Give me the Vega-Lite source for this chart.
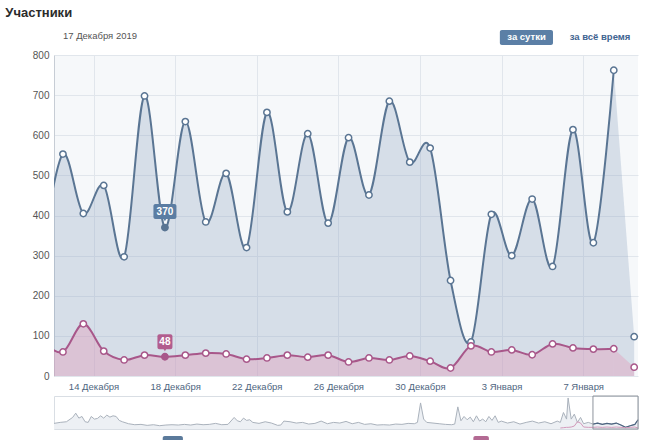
{
  "$schema": "https://vega.github.io/schema/vega-lite/v6.json",
  "padding": {"left": 5, "top": 7, "right": 0, "bottom": 0},
  "background": "#ffffff",
  "title": {"text": "Участники", "anchor": "start", "frame": "bounds", "font": "Liberation Sans", "fontSize": 13, "fontWeight": "bold", "color": "#2b2b2b", "dx": -27, "offset": 10},
  "config": {
    "font": "Liberation Sans",
    "concat": {"spacing": 4},
    "axisY": {"values": [0, 100, 200, 300, 400, 500, 600, 700, 800], "grid": true, "gridColor": "#e1e6ec", "domain": true, "domainColor": "#c7cdd5", "ticks": false, "labelPadding": 5, "labelFontSize": 10, "labelColor": "#555555", "labelFont": "Liberation Sans"}
  },
  "datasets": {
    "main": [
      {"date": "2019-12-11T12:00:00", "joined": 320, "left": 85},
      {"date": "2019-12-12T12:00:00", "joined": 553, "left": 60},
      {"date": "2019-12-13T12:00:00", "joined": 405, "left": 130},
      {"date": "2019-12-14T12:00:00", "joined": 475, "left": 62},
      {"date": "2019-12-15T12:00:00", "joined": 297, "left": 40},
      {"date": "2019-12-16T12:00:00", "joined": 698, "left": 52},
      {"date": "2019-12-17T12:00:00", "joined": 370, "left": 48},
      {"date": "2019-12-18T12:00:00", "joined": 634, "left": 52},
      {"date": "2019-12-19T12:00:00", "joined": 384, "left": 57},
      {"date": "2019-12-20T12:00:00", "joined": 505, "left": 55},
      {"date": "2019-12-21T12:00:00", "joined": 320, "left": 42},
      {"date": "2019-12-22T12:00:00", "joined": 657, "left": 45},
      {"date": "2019-12-23T12:00:00", "joined": 409, "left": 52},
      {"date": "2019-12-24T12:00:00", "joined": 604, "left": 47},
      {"date": "2019-12-25T12:00:00", "joined": 381, "left": 52},
      {"date": "2019-12-26T12:00:00", "joined": 594, "left": 35},
      {"date": "2019-12-27T12:00:00", "joined": 451, "left": 45},
      {"date": "2019-12-28T12:00:00", "joined": 685, "left": 40},
      {"date": "2019-12-29T12:00:00", "joined": 533, "left": 50},
      {"date": "2019-12-30T12:00:00", "joined": 568, "left": 37},
      {"date": "2019-12-31T12:00:00", "joined": 238, "left": 20},
      {"date": "2020-01-01T12:00:00", "joined": 85, "left": 75},
      {"date": "2020-01-02T12:00:00", "joined": 403, "left": 60},
      {"date": "2020-01-03T12:00:00", "joined": 300, "left": 65},
      {"date": "2020-01-04T12:00:00", "joined": 441, "left": 53},
      {"date": "2020-01-05T12:00:00", "joined": 273, "left": 80},
      {"date": "2020-01-06T12:00:00", "joined": 614, "left": 70},
      {"date": "2020-01-07T12:00:00", "joined": 332, "left": 67},
      {"date": "2020-01-08T12:00:00", "joined": 762, "left": 68},
      {"date": "2020-01-09T12:00:00", "joined": 98, "left": 22}
    ],
    "nav": [
      {"d": 0, "v": 17}, {"d": 4, "v": 20}, {"d": 8, "v": 22}, {"d": 12, "v": 35}, {"d": 14, "v": 48}, {"d": 16, "v": 33}, {"d": 18, "v": 38}, {"d": 20, "v": 22}, {"d": 22, "v": 20}, {"d": 24, "v": 38}, {"d": 26, "v": 30}, {"d": 28, "v": 32}, {"d": 30, "v": 40}, {"d": 32, "v": 33}, {"d": 34, "v": 42}, {"d": 36, "v": 36}, {"d": 38, "v": 40}, {"d": 40, "v": 38}, {"d": 42, "v": 26}, {"d": 44, "v": 22}, {"d": 48, "v": 16}, {"d": 52, "v": 13}, {"d": 56, "v": 14}, {"d": 60, "v": 11}, {"d": 64, "v": 13}, {"d": 68, "v": 10}, {"d": 72, "v": 12}, {"d": 76, "v": 13}, {"d": 80, "v": 12}, {"d": 84, "v": 14}, {"d": 88, "v": 12}, {"d": 92, "v": 15}, {"d": 96, "v": 13}, {"d": 100, "v": 14}, {"d": 104, "v": 17}, {"d": 108, "v": 13}, {"d": 112, "v": 14}, {"d": 116, "v": 35}, {"d": 118, "v": 25}, {"d": 120, "v": 22}, {"d": 122, "v": 33}, {"d": 124, "v": 26}, {"d": 126, "v": 28}, {"d": 128, "v": 20}, {"d": 132, "v": 17}, {"d": 136, "v": 22}, {"d": 140, "v": 18}, {"d": 144, "v": 11}, {"d": 146, "v": 12}, {"d": 148, "v": 24}, {"d": 152, "v": 22}, {"d": 156, "v": 18}, {"d": 160, "v": 20}, {"d": 164, "v": 15}, {"d": 168, "v": 17}, {"d": 172, "v": 24}, {"d": 176, "v": 16}, {"d": 180, "v": 20}, {"d": 184, "v": 18}, {"d": 188, "v": 23}, {"d": 192, "v": 16}, {"d": 196, "v": 20}, {"d": 200, "v": 14}, {"d": 204, "v": 16}, {"d": 208, "v": 12}, {"d": 212, "v": 13}, {"d": 216, "v": 12}, {"d": 220, "v": 15}, {"d": 224, "v": 14}, {"d": 228, "v": 17}, {"d": 232, "v": 16}, {"d": 234, "v": 20}, {"d": 236, "v": 79}, {"d": 238, "v": 30}, {"d": 240, "v": 20}, {"d": 244, "v": 18}, {"d": 248, "v": 16}, {"d": 252, "v": 14}, {"d": 256, "v": 13}, {"d": 258, "v": 15}, {"d": 260, "v": 67}, {"d": 262, "v": 25}, {"d": 264, "v": 38}, {"d": 266, "v": 28}, {"d": 268, "v": 36}, {"d": 270, "v": 22}, {"d": 272, "v": 40}, {"d": 274, "v": 24}, {"d": 276, "v": 30}, {"d": 278, "v": 22}, {"d": 280, "v": 38}, {"d": 282, "v": 26}, {"d": 284, "v": 40}, {"d": 286, "v": 20}, {"d": 288, "v": 24}, {"d": 292, "v": 18}, {"d": 296, "v": 22}, {"d": 300, "v": 15}, {"d": 304, "v": 20}, {"d": 308, "v": 24}, {"d": 312, "v": 18}, {"d": 316, "v": 22}, {"d": 320, "v": 16}, {"d": 324, "v": 24}, {"d": 326, "v": 20, "w": 3}, {"d": 328, "v": 50, "w": 4}, {"d": 330, "v": 30, "w": 5}, {"d": 331, "v": 94, "w": 5}, {"d": 333, "v": 30, "w": 6}, {"d": 335, "v": 45, "w": 9}, {"d": 337, "v": 20, "w": 22}, {"d": 339, "v": 35, "w": 18}, {"d": 341, "v": 16, "w": 6}, {"d": 344, "v": 20, "w": 5}, {"d": 347, "v": 15, "w": 5}, {"d": 350, "v": 18, "w": 6}, {"d": 353, "v": 14, "w": 5}, {"d": 356, "v": 17, "w": 6}, {"d": 359, "v": 15, "w": 5}, {"d": 362, "v": 18, "w": 6}, {"d": 365, "v": 12, "w": 5}, {"d": 368, "v": 5, "w": 4}, {"d": 371, "v": 10, "w": 5}, {"d": 374, "v": 14, "w": 6}, {"d": 376, "v": 28, "w": 3}
    ]
  },
  "vconcat": [
    {
      "width": 584,
      "height": 321,
      "view": {"fill": "#f6f8fa", "stroke": null},
      "data": {"name": "main"},
      "encoding": {
        "x": {
          "field": "date", "type": "temporal",
          "scale": {"domain": [{"year": 2019, "month": 12, "date": 12, "hours": 1, "minutes": 30}, {"year": 2020, "month": 1, "date": 9, "hours": 16, "minutes": 30}]},
          "axis": {
            "values": [{"year": 2019, "month": 12, "date": 14}, {"year": 2019, "month": 12, "date": 18}, {"year": 2019, "month": 12, "date": 22}, {"year": 2019, "month": 12, "date": 26}, {"year": 2019, "month": 12, "date": 30}, {"year": 2020, "month": 1, "date": 3}, {"year": 2020, "month": 1, "date": 7}],
            "labelExpr": "date(datum.value) + (month(datum.value) == 11 ? ' Декабря' : ' Января')",
            "grid": true, "gridColor": "#e1e6ec", "domain": false, "ticks": false,
            "labelPadding": 5, "labelFontSize": 9.5, "labelColor": "#4e6580", "labelFont": "Liberation Sans", "title": null
          }
        }
      },
      "layer": [
        {
          "transform": [{"filter": "toDate(datum.date) < datetime(2020, 0, 9)"}],
          "mark": {"type": "area", "interpolate": "cardinal", "color": "#8aa3c0", "opacity": 0.3, "clip": true},
          "encoding": {"y": {"field": "joined", "type": "quantitative", "scale": {"domain": [0, 800]}, "title": null}}
        },
        {
          "transform": [{"filter": "toDate(datum.date) >= datetime(2020, 0, 8)"}],
          "mark": {"type": "area", "color": "#8aa3c0", "opacity": 0.3, "clip": true},
          "encoding": {"y": {"field": "joined", "type": "quantitative", "title": null}}
        },
        {
          "transform": [{"filter": "toDate(datum.date) < datetime(2020, 0, 9)"}],
          "mark": {"type": "area", "interpolate": "cardinal", "color": "#e39ab8", "opacity": 0.4, "clip": true},
          "encoding": {"y": {"field": "left", "type": "quantitative", "title": null}}
        },
        {
          "transform": [{"filter": "toDate(datum.date) >= datetime(2020, 0, 8)"}],
          "mark": {"type": "area", "color": "#e39ab8", "opacity": 0.4, "clip": true},
          "encoding": {"y": {"field": "left", "type": "quantitative", "title": null}}
        },
        {
          "transform": [{"filter": "toDate(datum.date) < datetime(2020, 0, 9)"}],
          "mark": {"type": "line", "interpolate": "cardinal", "color": "#5a7593", "strokeWidth": 2, "clip": true},
          "encoding": {"y": {"field": "joined", "type": "quantitative", "title": null}}
        },
        {
          "transform": [{"filter": "toDate(datum.date) < datetime(2020, 0, 9)"}],
          "mark": {"type": "line", "interpolate": "cardinal", "color": "#a8578a", "strokeWidth": 2, "clip": true},
          "encoding": {"y": {"field": "left", "type": "quantitative", "title": null}}
        },
        {
          "transform": [{"filter": "toDate(datum.date) >= datetime(2019, 11, 12)"}],
          "mark": {"type": "point", "filled": true, "opacity": 1, "size": 40, "stroke": "#5a7593", "strokeWidth": 1.5},
          "encoding": {
            "y": {"field": "joined", "type": "quantitative", "title": null},
            "fill": {"condition": {"test": "date(toDate(datum.date)) == 17 && month(toDate(datum.date)) == 11", "value": "#5a7593"}, "value": "#ffffff"}
          }
        },
        {
          "transform": [{"filter": "toDate(datum.date) >= datetime(2019, 11, 12)"}],
          "mark": {"type": "point", "filled": true, "opacity": 1, "size": 40, "stroke": "#a8578a", "strokeWidth": 1.5},
          "encoding": {
            "y": {"field": "left", "type": "quantitative", "title": null},
            "fill": {"condition": {"test": "date(toDate(datum.date)) == 17 && month(toDate(datum.date)) == 11", "value": "#a8578a"}, "value": "#ffffff"}
          }
        },
        {
          "transform": [{"filter": "date(toDate(datum.date)) == 17 && month(toDate(datum.date)) == 11"}],
          "mark": {"type": "point", "shape": "triangle-down", "filled": true, "opacity": 1, "size": 14, "color": "#5b7da3", "yOffset": -8},
          "encoding": {"y": {"field": "joined", "type": "quantitative", "title": null}}
        },
        {
          "transform": [{"filter": "date(toDate(datum.date)) == 17 && month(toDate(datum.date)) == 11"}],
          "mark": {"type": "rect", "width": 23, "height": 15, "yOffset": -16, "cornerRadius": 2, "color": "#5b7da3"},
          "encoding": {"y": {"field": "joined", "type": "quantitative", "title": null}}
        },
        {
          "transform": [{"filter": "date(toDate(datum.date)) == 17 && month(toDate(datum.date)) == 11"}],
          "mark": {"type": "text", "yOffset": -16, "baseline": "middle", "align": "center", "fontSize": 10, "fontWeight": "bold", "color": "#ffffff", "font": "Liberation Sans"},
          "encoding": {"y": {"field": "joined", "type": "quantitative", "title": null}, "text": {"field": "joined"}}
        },
        {
          "transform": [{"filter": "date(toDate(datum.date)) == 17 && month(toDate(datum.date)) == 11"}],
          "mark": {"type": "point", "shape": "triangle-down", "filled": true, "opacity": 1, "size": 14, "color": "#b25d8e", "yOffset": -7},
          "encoding": {"y": {"field": "left", "type": "quantitative", "title": null}}
        },
        {
          "transform": [{"filter": "date(toDate(datum.date)) == 17 && month(toDate(datum.date)) == 11"}],
          "mark": {"type": "rect", "width": 15, "height": 15, "yOffset": -15, "cornerRadius": 2, "color": "#b25d8e"},
          "encoding": {"y": {"field": "left", "type": "quantitative", "title": null}}
        },
        {
          "transform": [{"filter": "date(toDate(datum.date)) == 17 && month(toDate(datum.date)) == 11"}],
          "mark": {"type": "text", "yOffset": -15, "baseline": "middle", "align": "center", "fontSize": 10, "fontWeight": "bold", "color": "#ffffff", "font": "Liberation Sans"},
          "encoding": {"y": {"field": "left", "type": "quantitative", "title": null}, "text": {"field": "left"}}
        },
        {
          "transform": [{"filter": "date(toDate(datum.date)) == 17 && month(toDate(datum.date)) == 11"}],
          "mark": {"type": "text", "text": "17 Декабря 2019", "align": "left", "baseline": "middle", "fontSize": 9.5, "color": "#555555", "font": "Liberation Sans"},
          "encoding": {"x": {"datum": {"year": 2019, "month": 12, "date": 12, "hours": 12}, "type": "temporal"}, "y": {"datum": 848, "type": "quantitative", "title": null}}
        },
        {
          "transform": [{"filter": "date(toDate(datum.date)) == 17 && month(toDate(datum.date)) == 11"}],
          "mark": {"type": "rect", "cornerRadius": 2, "color": "#5b7fa6"},
          "encoding": {
            "x": {"datum": {"year": 2020, "month": 1, "date": 2, "hours": 22}, "type": "temporal"},
            "x2": {"datum": {"year": 2020, "month": 1, "date": 5, "hours": 12, "minutes": 30}},
            "y": {"datum": 862, "type": "quantitative", "title": null},
            "y2": {"datum": 825}
          }
        },
        {
          "transform": [{"filter": "date(toDate(datum.date)) == 17 && month(toDate(datum.date)) == 11"}],
          "mark": {"type": "text", "text": "за сутки", "align": "center", "baseline": "middle", "fontSize": 9.5, "fontWeight": "bold", "color": "#ffffff", "font": "Liberation Sans"},
          "encoding": {"x": {"datum": {"year": 2020, "month": 1, "date": 4, "hours": 5, "minutes": 20}, "type": "temporal"}, "y": {"datum": 844, "type": "quantitative", "title": null}}
        },
        {
          "transform": [{"filter": "date(toDate(datum.date)) == 17 && month(toDate(datum.date)) == 11"}],
          "mark": {"type": "text", "text": "за всё время", "align": "center", "baseline": "middle", "fontSize": 9.5, "fontWeight": "bold", "color": "#3f6491", "font": "Liberation Sans"},
          "encoding": {"x": {"datum": {"year": 2020, "month": 1, "date": 7, "hours": 19, "minutes": 50}, "type": "temporal"}, "y": {"datum": 844, "type": "quantitative", "title": null}}
        }
      ]
    },
    {
      "width": 584,
      "height": 33,
      "view": {"stroke": "#d9dee4", "fill": "#ffffff"},
      "data": {"name": "nav"},
      "encoding": {"x": {"field": "d", "type": "quantitative", "scale": {"domain": [0, 376], "nice": false, "zero": false}, "axis": null}},
      "layer": [
        {
          "mark": {"type": "area", "color": "#edf0f4"},
          "encoding": {"y": {"field": "v", "type": "quantitative", "scale": {"domain": [0, 100]}, "axis": null}}
        },
        {
          "mark": {"type": "line", "color": "#aab2bc", "strokeWidth": 1},
          "encoding": {"y": {"field": "v", "type": "quantitative", "axis": null}}
        },
        {
          "transform": [{"filter": "datum.d >= 347"}],
          "mark": {"type": "line", "color": "#4c6480", "strokeWidth": 1.2},
          "encoding": {"y": {"field": "v", "type": "quantitative", "axis": null}}
        },
        {
          "transform": [{"filter": "isValid(datum.w)"}],
          "mark": {"type": "line", "color": "#d39abb", "strokeWidth": 1},
          "encoding": {"y": {"field": "w", "type": "quantitative", "axis": null}}
        },
        {
          "transform": [{"filter": "datum.d == 0"}],
          "mark": {"type": "rect", "fill": "transparent", "stroke": "#8e949c", "strokeWidth": 1},
          "encoding": {"x": {"datum": 347, "type": "quantitative"}, "x2": {"datum": 376}, "y": {"datum": 0, "type": "quantitative", "axis": null}, "y2": {"datum": 100}}
        },
        {
          "transform": [{"filter": "datum.d == 0"}],
          "mark": {"type": "rect", "cornerRadius": 2, "color": "#5b7a9b"},
          "encoding": {"x": {"datum": 70, "type": "quantitative"}, "x2": {"datum": 83}, "y": {"datum": -21, "type": "quantitative", "axis": null}, "y2": {"datum": -60}}
        },
        {
          "transform": [{"filter": "datum.d == 0"}],
          "mark": {"type": "rect", "cornerRadius": 2, "color": "#b36a93"},
          "encoding": {"x": {"datum": 270, "type": "quantitative"}, "x2": {"datum": 280}, "y": {"datum": -21, "type": "quantitative", "axis": null}, "y2": {"datum": -60}}
        }
      ]
    }
  ]
}
